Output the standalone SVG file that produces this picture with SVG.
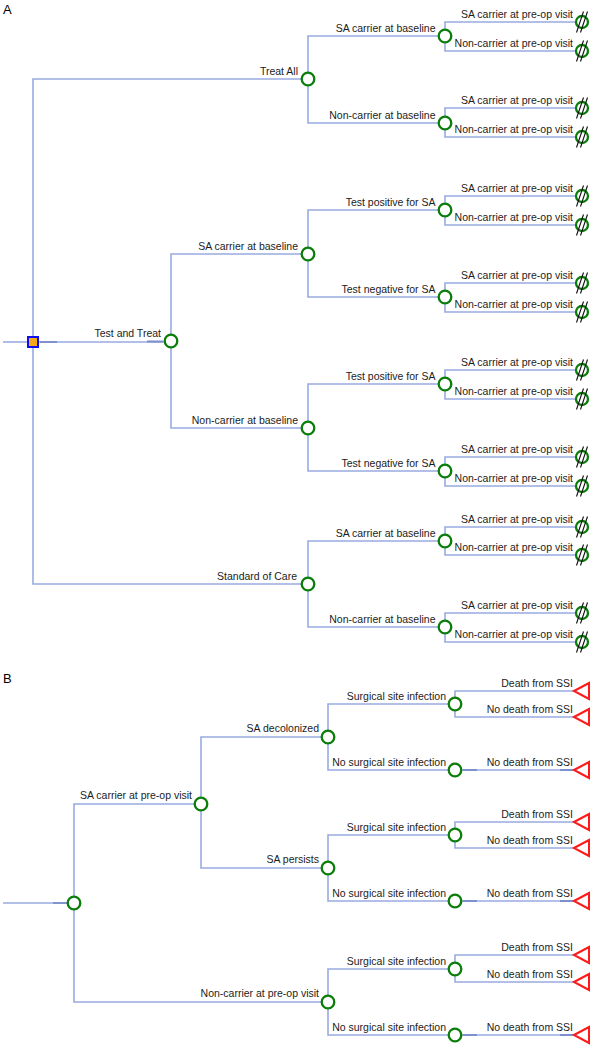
<svg xmlns="http://www.w3.org/2000/svg" width="597" height="1050" viewBox="0 0 597 1050">
<style>
.ln{fill:none;stroke:#98abe2;stroke-width:1.6}
.dk{fill:none;stroke:#7d8fcc;stroke-width:1.8}
.ch{fill:#fff;stroke:#0a7d0a;stroke-width:2.3}
.tc{fill:#fff;stroke:#0a7d0a;stroke-width:2.3}
.sl{stroke:#111;stroke-width:1.1}
.tri{fill:none;stroke:#ff1a1a;stroke-width:2}
.dec{fill:#f7a81b;stroke:#1010ee;stroke-width:2}
text{font-family:"Liberation Sans",Arial,sans-serif;font-size:10.5px;fill:#1c1c1c;text-anchor:end}
.pl{font-size:13px;text-anchor:start;fill:#000}
</style>
<defs>
<g id="term">
<circle class="tc" cx="0" cy="0" r="6"/>
<line class="sl" x1="-5.5" y1="10.5" x2="1.5" y2="-10.5"/>
<line class="sl" x1="-1.5" y1="10.5" x2="5.5" y2="-10.5"/>
</g>
<polygon id="tri" class="tri" points="-8,0 7,-8 7,8"/>
</defs>
<text class="pl" x="3" y="14">A</text>
<text class="pl" x="3" y="683">B</text>
<g id="connectors">
<path class="ln" d="M3 342 H33"/>
<path class="ln" d="M33 342 V79 H308"/>
<path class="ln" d="M33 342 H171"/>
<path class="ln" d="M33 342 V584 H308"/>
<path class="dk" d="M40 342 H57 M147 341.5 H163"/>
<path class="ln" d="M308 79 V36 H445 M308 79 V123 H445"/>
<path class="ln" d="M445 36 V22 H576 M445 36 V51 H576"/>
<path class="ln" d="M445 123 V108 H576 M445 123 V137 H576"/>
<path class="ln" d="M171 341 V254 H308 M171 341 V428 H308"/>
<path class="ln" d="M308 254 V210 H445 M308 254 V297 H445"/>
<path class="ln" d="M445 210 V196 H576 M445 210 V225 H576"/>
<path class="ln" d="M445 297 V283 H576 M445 297 V312 H576"/>
<path class="ln" d="M308 428 V384 H445 M308 428 V471 H445"/>
<path class="ln" d="M445 384 V370 H576 M445 384 V399 H576"/>
<path class="ln" d="M445 471 V457 H576 M445 471 V486 H576"/>
<path class="ln" d="M308 584 V541 H445 M308 584 V627 H445"/>
<path class="ln" d="M445 541 V527 H576 M445 541 V555 H576"/>
<path class="ln" d="M445 627 V613 H576 M445 627 V642 H576"/>
<path class="ln" d="M3 903 H74"/>
<path class="dk" d="M53 903 H67"/>
<path class="ln" d="M74 903 V804 H201 M74 903 V1002 H328"/>
<path class="ln" d="M201 804 V737 H328 M201 804 V868 H328"/>
<path class="ln" d="M328 737 V704 H455 M328 737 V770 H455"/>
<path class="ln" d="M455 704 V691 H574 M455 704 V717 H574"/>
<path class="ln" d="M455 770 H574"/>
<path class="ln" d="M328 868 V835 H455 M328 868 V901 H455"/>
<path class="ln" d="M455 835 V822 H574 M455 835 V848 H574"/>
<path class="ln" d="M455 901 H574"/>
<path class="ln" d="M328 1002 V969 H455 M328 1002 V1035 H455"/>
<path class="ln" d="M455 969 V955 H574 M455 969 V982 H574"/>
<path class="ln" d="M455 1035 H574"/>
<path class="dk" d="M463 770 H477 M560 770 H573 M463 901 H477 M560 901 H573 M463 1035 H477 M560 1035 H573"/>
</g>
<g id="a-root"><rect class="dec" x="28" y="337" width="10" height="10"/></g>
<g id="a-treat"><circle class="ch" cx="308" cy="79" r="6.3"/><text x="298" y="75">Treat All</text></g>
<g id="a-treat-sa"><circle class="ch" cx="445" cy="36" r="6.3"/><text x="435.5" y="32">SA carrier at baseline</text></g>
<g id="a-treat-non"><circle class="ch" cx="445" cy="123" r="6.3"/><text x="435.5" y="119">Non-carrier at baseline</text></g>
<g id="a-tt"><circle class="ch" cx="171" cy="341" r="6.3"/><text x="161" y="337">Test and Treat</text></g>
<g id="a-tt-sa"><circle class="ch" cx="308" cy="254" r="6.3"/><text x="298" y="250">SA carrier at baseline</text></g>
<g id="a-tt-sa-pos"><circle class="ch" cx="445" cy="210" r="6.3"/><text x="435.5" y="206">Test positive for SA</text></g>
<g id="a-tt-sa-neg"><circle class="ch" cx="445" cy="297" r="6.3"/><text x="435.5" y="293">Test negative for SA</text></g>
<g id="a-tt-non"><circle class="ch" cx="308" cy="428" r="6.3"/><text x="298" y="424">Non-carrier at baseline</text></g>
<g id="a-tt-non-pos"><circle class="ch" cx="445" cy="384" r="6.3"/><text x="435.5" y="380">Test positive for SA</text></g>
<g id="a-tt-non-neg"><circle class="ch" cx="445" cy="471" r="6.3"/><text x="435.5" y="467">Test negative for SA</text></g>
<g id="a-soc"><circle class="ch" cx="308" cy="584" r="6.3"/><text x="297" y="580">Standard of Care</text></g>
<g id="a-soc-sa"><circle class="ch" cx="445" cy="541" r="6.3"/><text x="435.5" y="537">SA carrier at baseline</text></g>
<g id="a-soc-non"><circle class="ch" cx="445" cy="627" r="6.3"/><text x="435.5" y="623">Non-carrier at baseline</text></g>
<g id="a-t1"><use href="#term" x="582" y="22"/><text x="573" y="17.5">SA carrier at pre-op visit</text></g>
<g id="a-t2"><use href="#term" x="582" y="51"/><text x="573" y="46.5">Non-carrier at pre-op visit</text></g>
<g id="a-t3"><use href="#term" x="582" y="108"/><text x="573" y="103.5">SA carrier at pre-op visit</text></g>
<g id="a-t4"><use href="#term" x="582" y="137"/><text x="573" y="132.5">Non-carrier at pre-op visit</text></g>
<g id="a-t5"><use href="#term" x="582" y="196"/><text x="573" y="191.5">SA carrier at pre-op visit</text></g>
<g id="a-t6"><use href="#term" x="582" y="225"/><text x="573" y="220.5">Non-carrier at pre-op visit</text></g>
<g id="a-t7"><use href="#term" x="582" y="283"/><text x="573" y="278.5">SA carrier at pre-op visit</text></g>
<g id="a-t8"><use href="#term" x="582" y="312"/><text x="573" y="307.5">Non-carrier at pre-op visit</text></g>
<g id="a-t9"><use href="#term" x="582" y="370"/><text x="573" y="365.5">SA carrier at pre-op visit</text></g>
<g id="a-t10"><use href="#term" x="582" y="399"/><text x="573" y="394.5">Non-carrier at pre-op visit</text></g>
<g id="a-t11"><use href="#term" x="582" y="457"/><text x="573" y="452.5">SA carrier at pre-op visit</text></g>
<g id="a-t12"><use href="#term" x="582" y="486"/><text x="573" y="481.5">Non-carrier at pre-op visit</text></g>
<g id="a-t13"><use href="#term" x="582" y="527"/><text x="573" y="522.5">SA carrier at pre-op visit</text></g>
<g id="a-t14"><use href="#term" x="582" y="555"/><text x="573" y="550.5">Non-carrier at pre-op visit</text></g>
<g id="a-t15"><use href="#term" x="582" y="613"/><text x="573" y="608.5">SA carrier at pre-op visit</text></g>
<g id="a-t16"><use href="#term" x="582" y="642"/><text x="573" y="637.5">Non-carrier at pre-op visit</text></g>
<g id="b-root"><circle class="ch" cx="74" cy="903" r="6.3"/></g>
<g id="b-sa"><circle class="ch" cx="201" cy="804" r="6.3"/><text x="192" y="799">SA carrier at pre-op visit</text></g>
<g id="b-dec"><circle class="ch" cx="328" cy="737" r="6.3"/><text x="319" y="732">SA decolonized</text></g>
<g id="b-dec-ssi"><circle class="ch" cx="455" cy="704" r="6.3"/><text x="446" y="700">Surgical site infection</text></g>
<g id="b-dec-nossi"><circle class="ch" cx="455" cy="770" r="6.3"/><text x="446" y="766">No surgical site infection</text></g>
<g id="b-per"><circle class="ch" cx="328" cy="868" r="6.3"/><text x="319" y="863">SA persists</text></g>
<g id="b-per-ssi"><circle class="ch" cx="455" cy="835" r="6.3"/><text x="446" y="831">Surgical site infection</text></g>
<g id="b-per-nossi"><circle class="ch" cx="455" cy="901" r="6.3"/><text x="446" y="897">No surgical site infection</text></g>
<g id="b-non"><circle class="ch" cx="328" cy="1002" r="6.3"/><text x="319" y="997">Non-carrier at pre-op visit</text></g>
<g id="b-non-ssi"><circle class="ch" cx="455" cy="969" r="6.3"/><text x="446" y="965">Surgical site infection</text></g>
<g id="b-non-nossi"><circle class="ch" cx="455" cy="1035" r="6.3"/><text x="446" y="1031">No surgical site infection</text></g>
<g id="b-t1"><use href="#tri" x="582" y="691"/><text x="573" y="686.5">Death from SSI</text></g>
<g id="b-t2"><use href="#tri" x="582" y="717"/><text x="573" y="712.5">No death from SSI</text></g>
<g id="b-t3"><use href="#tri" x="582" y="770"/><text x="573" y="765.5">No death from SSI</text></g>
<g id="b-t4"><use href="#tri" x="582" y="822"/><text x="573" y="817.5">Death from SSI</text></g>
<g id="b-t5"><use href="#tri" x="582" y="848"/><text x="573" y="843.5">No death from SSI</text></g>
<g id="b-t6"><use href="#tri" x="582" y="901"/><text x="573" y="896.5">No death from SSI</text></g>
<g id="b-t7"><use href="#tri" x="582" y="955"/><text x="573" y="950.5">Death from SSI</text></g>
<g id="b-t8"><use href="#tri" x="582" y="982"/><text x="573" y="977.5">No death from SSI</text></g>
<g id="b-t9"><use href="#tri" x="582" y="1035"/><text x="573" y="1030.5">No death from SSI</text></g>
</svg>
